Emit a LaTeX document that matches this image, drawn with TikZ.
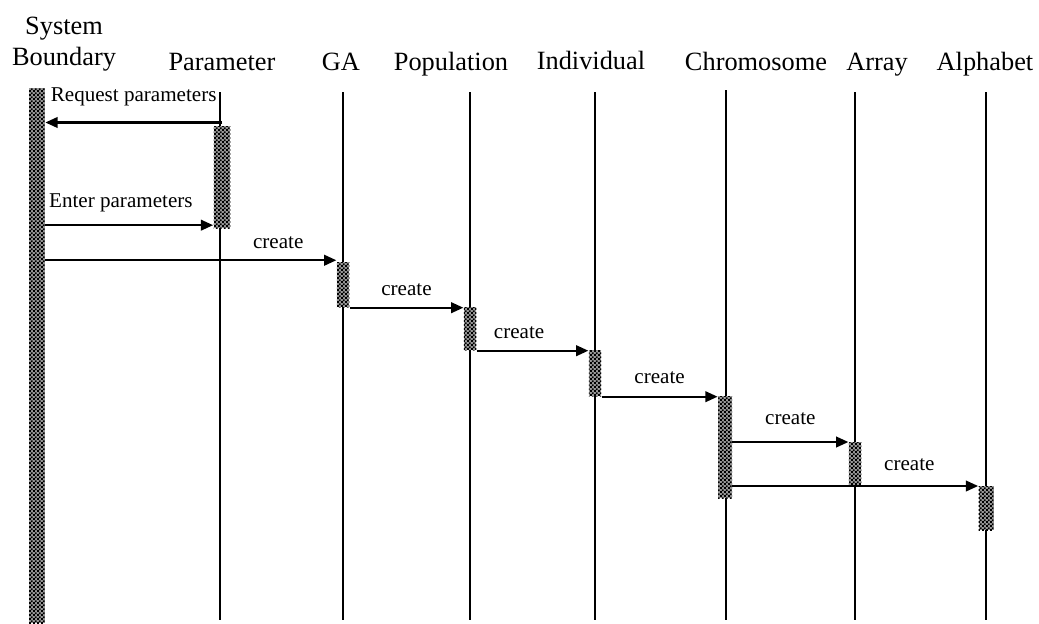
\documentclass[tikz,border=0pt]{standalone}
\usepackage{fontspec}
\setmainfont{Liberation Serif}
\usetikzlibrary{arrows.meta, patterns.meta, positioning}

% small checker used for the activation bars
\tikzdeclarepattern{
  name=checks, type=uncolored,
  bottom left={(0pt,0pt)}, top right={(2.4pt,2.4pt)},
  tile size={(2.4pt,2.4pt)},
  code={
    \fill (0pt,0pt) rectangle (1.2pt,1.2pt);
    \fill (1.2pt,1.2pt) rectangle (2.4pt,2.4pt);
  }
}

\tikzset{
  seqdiag/.style={
	x=0.02cm, y=-0.02cm, % one unit per pixel, y runs downwards
	head/.style={font=\fontsize{15}{17.5}\selectfont, align=center, inner sep=0pt, anchor=base}, % object names
	life/.style={line width=1.7pt}, % the lifelines
	act/.style={draw=none, fill=black!40, postaction={pattern=checks}, inner sep=0pt, minimum width=0.25cm, anchor=north}, % activation bars
	msg/.style={-{Triangle[length=7pt,width=6pt]}, line width=1.3pt}, % messages
	lbl/.style={font=\fontsize{12}{14}\selectfont, inner sep=0pt, above=6pt}, % message labels
  }
}

\begin{document}
\begin{tikzpicture}[seqdiag]
\useasboundingbox (0,0) rectangle (1039,623);

% object names, all on one baseline (base of a two-line node is its last line)
\node[head] (sys) at (64,65) {System\\Boundary};
\node[head] (param) at (222,70) {Parameter};
\node[head] (ga) at (341,70) {GA};
\node[head] (pop) at (451,70) {Population};
\node[head] (ind) at (591,69) {Individual};
\node[head] (chr) at (756,70) {Chromosome};
\node[head] (arr) at (877,70) {Array};
\node[head] (alp) at (985,70) {Alphabet};

% lifelines
\coordinate (pline) at (220,92);
\coordinate (galine) at (343,92);
\coordinate (popline) at (470,92);
\coordinate (indline) at (595,92);
\coordinate (chrline) at (726,90);
\coordinate (arrline) at (855,92);
\coordinate (alpline) at (986,92);
\coordinate (bottom) at (0,620);

\foreach \l in {pline, galine, popline, indline, chrline, arrline, alpline}
  \draw[life] (\l) -- (\l |- bottom);

% activation bars
\node[act, minimum width=0.32cm, minimum height=10.7cm] (sbbox) at (37,88) {};
\node[act, minimum width=0.34cm, minimum height=2.04cm] (pbox) at (222,126) {};
\node[act, minimum height=0.9cm] (gabox) at (343,262) {};
\node[act, minimum height=0.86cm] (popbox) at (470,307) {};
\node[act, minimum height=0.92cm] (indbox) at (595,350) {};
\node[act, minimum width=0.28cm, minimum height=2.04cm] (chrbox) at (725,396) {};
\node[act, minimum height=0.88cm] (arrbox) at (855,442) {};
\node[act, minimum width=0.3cm, minimum height=0.88cm] (alpbox) at (986,486) {};

% messages
\draw[msg] ([yshift=2pt]pbox.north) -- ([yshift=2pt]sbbox.east |- pbox.north)
	node[lbl, midway, above=9pt] {Request parameters};
\draw[msg] ([yshift=2pt]sbbox.east |- pbox.south) -- ([yshift=2pt]pbox.south west)
	node[lbl, pos=0.45, above=7pt] {Enter parameters};
\draw[msg] ([yshift=1pt]sbbox.east |- gabox.north) -- ([yshift=1pt]gabox.north west)
	node[lbl, pos=0.8] {create};
\draw[msg] (gabox.south east) -- (gabox.south east -| popbox.west)
	node[lbl, midway] {create};
\draw[msg] (popbox.south east) -- (popbox.south east -| indbox.west)
	node[lbl, pos=0.38] {create};
\draw[msg] (indbox.south east) -- (indbox.south east -| chrbox.west)
	node[lbl, midway, above=7pt] {create};
\draw[msg] (chrbox.east |- arrbox.north) -- (arrbox.north west)
	node[lbl, midway, above=9pt] {create};
\draw[msg] (chrbox.east |- alpbox.north) -- (alpbox.north west)
	node[lbl, pos=0.72, above=8pt] {create};
\end{tikzpicture}
\end{document}
